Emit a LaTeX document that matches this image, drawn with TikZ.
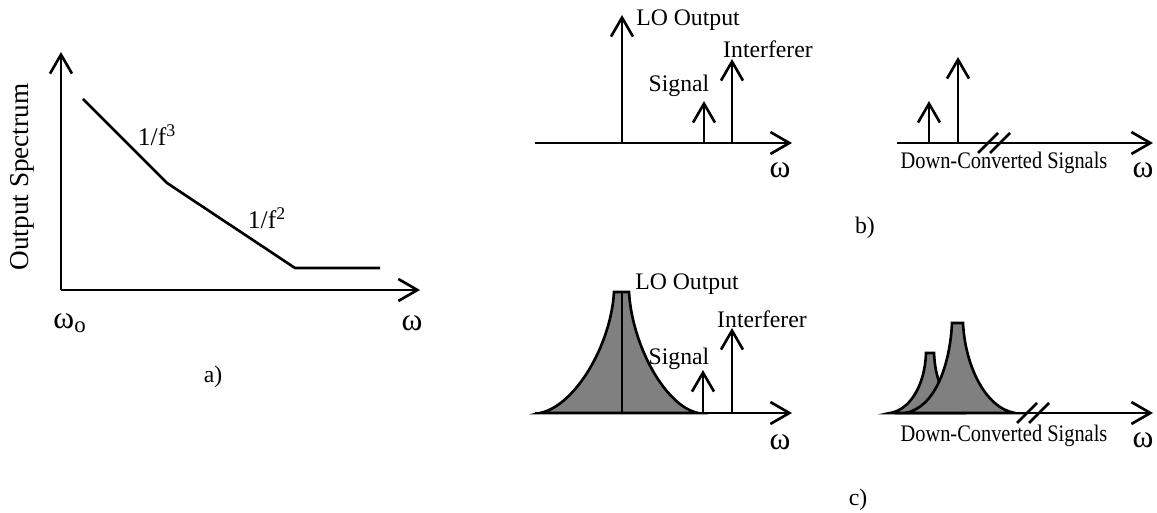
\documentclass[tikz,border=0pt]{standalone}
\usepackage{fontspec}
\setmainfont{Liberation Serif}
\usetikzlibrary{arrows.meta}

\begin{document}
\begin{tikzpicture}[x=0.02cm,y=-0.02cm,line width=1.5pt,
      arr/.style={-{Straight Barb[length=0.38cm,width=0.44cm]},line width=1.5pt},
      lbl/.style={inner sep=0pt,font=\fontsize{13.5}{15}\selectfont},
      om/.style={inner sep=0pt,font=\fontsize{18}{20}\selectfont},
      dcs/.style={inner sep=0pt,font=\fontsize{13.5}{15}\selectfont},
      peak/.style={draw,fill=black!50,line width=1.5pt}]
    \useasboundingbox (0,0) rectangle (1157,513);
    % a) output spectrum
    \coordinate (ao) at (61,290); \coordinate (ay) at (61,52); \coordinate (ax) at (420,290);
    \draw[arr](ao)--(ay); \draw[arr](ao)--(ax);
    \coordinate (n0) at (83,99); \coordinate (n1) at (167,183);
    \coordinate (n2) at (295,268); \coordinate (n3) at (380,268);
    \draw(n0)--(n1)--(n2)--(n3);
    \node[lbl,font=\fontsize{14.5}{16}\selectfont](f3) at (157,135){1/f\textsuperscript{3}};
    \node[lbl,font=\fontsize{14.5}{16}\selectfont](f2) at (267,218){1/f\textsuperscript{2}};
    \node[inner sep=0pt,font=\fontsize{15.5}{17}\selectfont,rotate=90](os) at (22,177){Output Spectrum};
    \node[om](w0) at (70,323){ω\textsubscript{\fontsize{13}{14}\selectfont o}};
    \node[om](wa) at (412,323){ω};
    \node[lbl](la) at (213,377){a)};
    % b) ideal LO
    \coordinate (b0) at (535,143); \coordinate (b1) at (792,143);
    \coordinate (blo) at (622,143); \coordinate (bsi) at (704,143); \coordinate (bin) at (732,143);
    \draw[arr](b0)--(b1);
    \draw[arr](blo)--++(0,-128); \draw[arr](bsi)--++(0,-42); \draw[arr](bin)--++(0,-84);
    \node[lbl,anchor=west](blol) at (635,20){LO Output};
    \node[lbl](bsil) at (679,86){Signal};
    \node[lbl](binl) at (768,49){Interferer};
    \node[om](wb) at (780,170){ω};
    \coordinate (d0) at (897,143); \coordinate (d1) at (1153,143);
    \coordinate (dsi) at (929,143); \coordinate (din) at (958,143);
    \draw[arr](d0)--(d1);
    \draw[arr](dsi)--++(0,-42); \draw[arr](din)--++(0,-86);
    \draw(978,153)--(998,133); \draw(990,153)--(1010,133);
    \node[dcs](dcb) at (1004,163){\scalebox{0.86}[1]{Down-Converted Signals}};
    \node[om](wd) at (1143,170){ω};
    \node[lbl](lb) at (865,228){b)};
    % c) noisy LO
    \coordinate (c0) at (535,413); \coordinate (c1) at (792,413);
    \draw[peak](540,413) .. controls (575,406) and (611,345) .. (614,292) -- (629,292)
      .. controls (632,345) and (665,406) .. (698,413) -- cycle;
    \draw(622,413)--(622,292);
    \coordinate (csi) at (703,413); \coordinate (cin) at (732,413);
    \draw[arr](c0)--(c1);
    \draw[arr](csi)--++(0,-43); \draw[arr](cin)--++(0,-85);
    \node[lbl](clol) at (687,284){LO Output};
    \node[lbl](csil) at (679,359){Signal};
    \node[lbl](cinl) at (762,319){Interferer};
    \node[om](wc) at (780,442){ω};
    \coordinate (e0) at (892,413); \coordinate (e1) at (1153,413);
    \draw[peak](890,413) .. controls (910,410) and (925,385) .. (926,353) -- (934,353)
      .. controls (935,380) and (945,402) .. (962,413) -- cycle;
    \draw[peak](905,413) .. controls (935,408) and (950,365) .. (952,323) -- (963,323)
      .. controls (965,365) and (985,408) .. (1015,413) -- cycle;
    \draw[arr](e0)--(e1);
    \draw(1017,423)--(1037,403); \draw(1029,423)--(1049,403);
    \node[dcs](dcc) at (1004,436){\scalebox{0.86}[1]{Down-Converted Signals}};
    \node[om](we) at (1143,440){ω};
    \node[lbl](lc) at (858,500){c)};
  \end{tikzpicture}
\end{document}
